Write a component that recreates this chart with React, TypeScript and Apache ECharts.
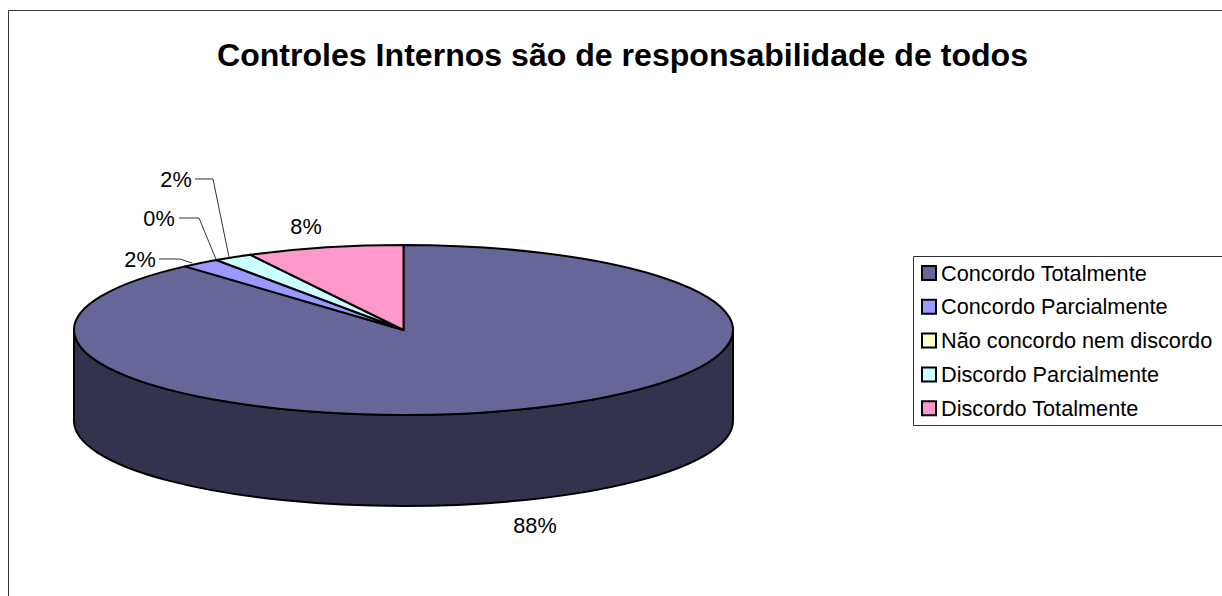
import React, { useEffect, useRef } from "react";
import * as echarts from "echarts";

const TITLE = "Controles Internos são de responsabilidade de todos";
const categories = [
  "Concordo Totalmente",
  "Concordo Parcialmente",
  "Não concordo nem discordo",
  "Discordo Parcialmente",
  "Discordo Totalmente",
];
const counts = [46, 1, 0, 1, 4];
const topColors = ["#666699", "#9999FF", "#FFFFCC", "#CCFFFF", "#FF99CC"];
const sideColors = ["#33334D", "#4D4D80", "#808066", "#668080", "#804D66"];

const FONT = '"Liberation Sans", Arial, sans-serif';
const GEO = { cx: 403.5, cy: 330, rx: 329.5, ry: 85, depth: 91 };
// label centre, elbow of the leader (or null), horizontal nudge of the leader end
const labelLayout = [
  { x: 535, y: 525.5, elbow: null, dx: 0 },
  { x: 140, y: 259.5, elbow: [180, 259], start: 159, dx: -8 },
  { x: 159, y: 218.5, elbow: [199, 218], start: 179, dx: 0 },
  { x: 176, y: 179.5, elbow: [213, 179], start: 195, dx: -4 },
  { x: 306, y: 226.5, elbow: null, dx: 0 },
];

const total = counts.reduce((a, b) => a + b, 0);
const pt = (t: number, dy = 0) => [
  GEO.cx + GEO.rx * Math.sin(t),
  GEO.cy - GEO.ry * Math.cos(t) + dy,
];

function sliceChildren(i: number) {
  const before = counts.slice(0, i).reduce((a, b) => a + b, 0);
  const t0 = (before / total) * Math.PI * 2;
  const t1 = ((before + counts[i]) / total) * Math.PI * 2;
  const children: any[] = [];
  const line = { stroke: "#000", lineWidth: 2, lineJoin: "round" };

  // visible front wall: the part of the slice between 3 and 9 o'clock
  const a0 = Math.max(t0, Math.PI / 2);
  const a1 = Math.min(t1, (Math.PI * 3) / 2);
  if (a1 > a0) {
    const [x0, y0] = pt(a0);
    const [x1, y1] = pt(a1);
    const large = a1 - a0 > Math.PI ? 1 : 0;
    children.push({
      type: "path",
      shape: {
        pathData: `M${x0} ${y0}A${GEO.rx} ${GEO.ry} 0 ${large} 1 ${x1} ${y1}L${x1} ${y1 + GEO.depth}A${GEO.rx} ${GEO.ry} 0 ${large} 0 ${x0} ${y0 + GEO.depth}Z`,
      },
      style: { fill: sideColors[i], ...line },
    });
  }

  // top face
  const [sx, sy] = pt(t0);
  const [ex, ey] = pt(t1);
  const largeTop = t1 - t0 > Math.PI ? 1 : 0;
  children.push({
    type: "path",
    shape: {
      pathData: `M${GEO.cx} ${GEO.cy}L${sx} ${sy}A${GEO.rx} ${GEO.ry} 0 ${largeTop} 1 ${ex} ${ey}Z`,
    },
    style: { fill: topColors[i], ...line },
  });

  // leader line and percentage label
  const lay: any = labelLayout[i];
  if (lay.elbow) {
    const [ax, ay] = pt((t0 + t1) / 2);
    children.push({
      type: "polyline",
      shape: { points: [[lay.start, lay.elbow[1]], lay.elbow, [ax + lay.dx, ay]] },
      style: { stroke: "#333", lineWidth: 1, fill: "none" },
    });
  }
  children.push({
    type: "text",
    x: lay.x,
    y: lay.y,
    style: {
      text: `${Math.round((counts[i] / total) * 100)}%`,
      font: `21.7px ${FONT}`,
      fill: "#000",
      align: "center",
      verticalAlign: "middle",
    },
  });
  return children;
}

export default function App() {
  const ref = useRef<HTMLDivElement>(null);
  useEffect(() => {
    document.body.style.margin = "0";
    const chart = echarts.init(ref.current!, null, { renderer: "svg" });
    chart.setOption({
      animation: false,
      backgroundColor: "#fff",
      title: {
        text: TITLE,
        left: 617.5,
        top: 34,
        textAlign: "center",
        textStyle: { fontFamily: FONT, fontSize: 32.1, fontWeight: "bold", color: "#000" },
      },
      legend: {
        orient: "vertical",
        left: 921,
        top: 256,
        padding: [6, 0, 0, 0],
        itemWidth: 14,
        itemHeight: 14,
        itemGap: 11.8,
        icon: "rect",
        data: categories,
        selectedMode: false,
        textStyle: { fontFamily: FONT, fontSize: 21.7, color: "#000" },
        itemStyle: { borderColor: "#000", borderWidth: 2 },
      },
      graphic: [
        {
          type: "rect",
          z: -1,
          shape: { x: 8.5, y: 10.5, width: 1400, height: 800 },
          style: { fill: "#fff", stroke: "#333", lineWidth: 1 },
        },
        {
          type: "rect",
          z: -1,
          shape: { x: 913.5, y: 256.5, width: 400, height: 169 },
          style: { fill: "#fff", stroke: "#333", lineWidth: 1 },
        },
      ],
      series: categories.map((name, i) => ({
        type: "custom",
        name,
        coordinateSystem: "none",
        z: 2 + i,
        silent: true,
        itemStyle: { color: topColors[i] },
        data: [[counts[i]]],
        renderItem: () => ({ type: "group", children: sliceChildren(i) }),
      })),
    });
    return () => chart.dispose();
  }, []);
  return <div ref={ref} style={{ width: 1222, height: 596, overflow: "hidden" }} />;
}
